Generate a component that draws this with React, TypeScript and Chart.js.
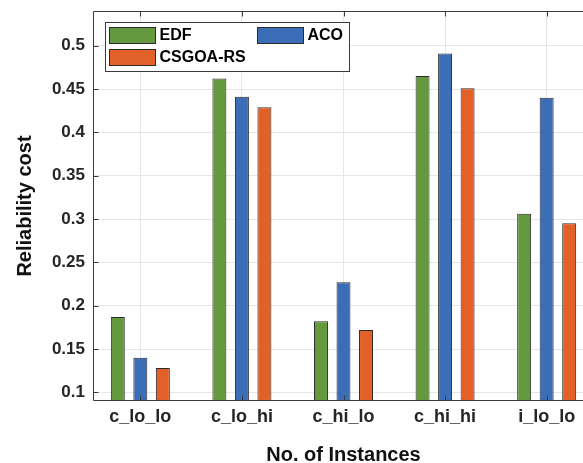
import React, { useEffect, useRef } from "react";
import { Chart, registerables } from "chart.js";

Chart.register(...registerables);

const categories = ["c_lo_lo", "c_lo_hi", "c_hi_lo", "c_hi_hi", "i_lo_lo"];
const seriesNames = ["EDF", "ACO", "CSGOA-RS"];
const edfValues = [0.187, 0.462, 0.182, 0.465, 0.306];
const acoValues = [0.14, 0.441, 0.227, 0.491, 0.44];
const csgoaValues = [0.128, 0.429, 0.172, 0.451, 0.295];
const yTickValues = [0.1, 0.15, 0.2, 0.25, 0.3, 0.35, 0.4, 0.45, 0.5];
const yMin = 0.09;
const yMax = 0.54;
const xMin = 0.534;
const xMax = 5.466;
const seriesColors = ["#64993F", "#3C6EB8", "#E2602A"];

const FONT = '"Liberation Sans", Arial, Helvetica, sans-serif';

const framePlugin = {
  id: "frame",
  afterDatasetsDraw(chart: any) {
    const { ctx, chartArea: a, scales } = chart;
    ctx.save();
    ctx.strokeStyle = "#3a3a3a";
    ctx.lineWidth = 1;
    const L = Math.round(a.left) + 0.5;
    const T = Math.round(a.top) + 0.5;
    const B = Math.round(a.bottom) - 0.5;
    const R = a.right;
    ctx.beginPath();
    ctx.moveTo(L, T);
    ctx.lineTo(R, T);
    ctx.moveTo(L, T);
    ctx.lineTo(L, B);
    ctx.lineTo(R, B);
    yTickValues.forEach((v) => {
      const y = Math.round(scales.y.getPixelForValue(v)) + 0.5;
      ctx.moveTo(L, y);
      ctx.lineTo(L + 5, y);
    });
    categories.forEach((_, i) => {
      const x = Math.round(scales.x.getPixelForValue(i + 1)) + 0.5;
      ctx.moveTo(x, B);
      ctx.lineTo(x, B - 5);
      ctx.moveTo(x, T);
      ctx.lineTo(x, T + 5);
    });
    ctx.stroke();
    ctx.restore();
  },
};

const legendPlugin = {
  id: "boxLegend",
  afterDraw(chart: any) {
    const { ctx, chartArea: a } = chart;
    const ds = chart.data.datasets;
    const bx = Math.round(a.left + 12) + 0.5;
    const by = Math.round(a.top + 11) + 0.5;
    const bw = 244;
    const bh = 49;
    ctx.save();
    ctx.fillStyle = "#ffffff";
    ctx.fillRect(bx, by, bw, bh);
    ctx.strokeStyle = "#3a3a3a";
    ctx.lineWidth = 1;
    ctx.strokeRect(bx, by, bw, bh);
    const slots = [
      { col: 0, row: 0 },
      { col: 1, row: 0 },
      { col: 0, row: 1 },
    ];
    ctx.font = "bold 16px " + FONT;
    ctx.textBaseline = "middle";
    ctx.textAlign = "left";
    ds.forEach((d: any, i: number) => {
      const s = slots[i];
      const sx = bx + 4 + s.col * 148;
      const sy = by + 5 + s.row * 22;
      ctx.fillStyle = d.backgroundColor;
      ctx.fillRect(sx, sy, 46, 16);
      ctx.strokeStyle = "#2b2b2b";
      ctx.strokeRect(sx, sy, 46, 16);
      ctx.fillStyle = "#000000";
      ctx.fillText(d.label, sx + 50, sy + 8.5);
    });
    ctx.restore();
  },
};

export default function App() {
  const canvasRef = useRef<HTMLCanvasElement | null>(null);

  useEffect(() => {
    const canvas = canvasRef.current;
    if (!canvas) return;
    const allValues = [edfValues, acoValues, csgoaValues];
    const chart = new Chart(canvas, {
      type: "bar",
      data: {
        datasets: allValues.map((vals, s) => ({
          label: seriesNames[s],
          data: vals.map((v, i) => ({ x: i + 1, y: v })),
          backgroundColor: seriesColors[s],
          borderColor: "#2b2b2b",
          borderWidth: 1,
          borderSkipped: false,
          categoryPercentage: 0.665,
          barPercentage: 0.62,
        })),
      },
      options: {
        animation: false,
        responsive: false,
        devicePixelRatio: 1,
        layout: { padding: { top: 11, right: 6, left: 0, bottom: 0 } },
        plugins: {
          legend: { display: false },
          tooltip: { enabled: false },
        },
        scales: {
          x: {
            type: "linear",
            min: xMin,
            max: xMax,
            offset: false,
            afterBuildTicks(scale: any) {
              scale.ticks = categories.map((_, i) => ({ value: i + 1 }));
            },
            afterFit(scale: any) {
              scale.height = 66;
              scale.paddingLeft = 0;
              scale.paddingRight = 0;
            },
            grid: { color: "#e6e6e6", drawTicks: false, offset: false },
            border: { display: false },
            ticks: {
              autoSkip: false,
              maxRotation: 0,
              padding: 5,
              color: "#262626",
              font: { family: FONT, size: 18, weight: "bold" },
              callback: (v: any) => categories[Math.round(Number(v)) - 1] ?? "",
            },
            title: {
              display: true,
              text: "No. of Instances",
              color: "#111111",
              font: { family: FONT, size: 20, weight: "bold" },
              padding: { top: 0, bottom: 0 },
            },
          },
          y: {
            min: yMin,
            max: yMax,
            afterBuildTicks(scale: any) {
              scale.ticks = yTickValues.map((v) => ({ value: v }));
            },
            afterFit(scale: any) {
              scale.width = 93;
              scale.paddingTop = 0;
              scale.paddingBottom = 0;
            },
            grid: { color: "#e6e6e6", drawTicks: false },
            border: { display: false },
            ticks: {
              padding: 8,
              color: "#262626",
              font: { family: FONT, size: 17, weight: "bold" },
              callback: (v: any) => String(+Number(v).toFixed(2)),
            },
            title: {
              display: true,
              text: "Reliability cost",
              color: "#111111",
              font: { family: FONT, size: 20, weight: "bold" },
              padding: { top: 13, bottom: 0 },
            },
          },
        },
      } as any,
      plugins: [framePlugin, legendPlugin],
    });
    return () => chart.destroy();
  }, []);

  return (
    <div
      style={{
        position: "fixed",
        left: 0,
        top: 0,
        width: 583,
        height: 463,
        overflow: "hidden",
        background: "#ffffff",
      }}
    >
      <canvas ref={canvasRef} width={600} height={467} style={{ display: "block" }} />
    </div>
  );
}
